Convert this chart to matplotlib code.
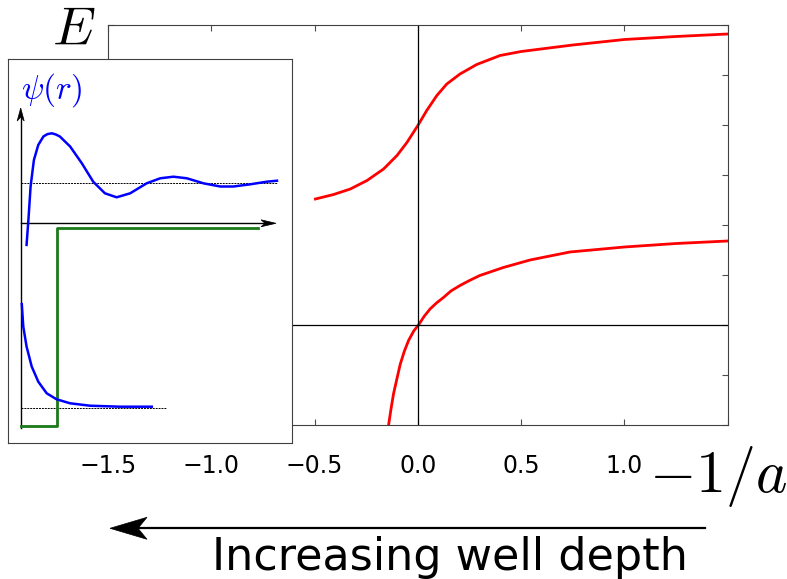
import matplotlib
matplotlib.use("Agg")
import matplotlib.pyplot as plt
from matplotlib.patches import Polygon

plt.rcParams["mathtext.fontset"] = "cm"
plt.rcParams["lines.solid_joinstyle"] = "round"

# main panel: energy levels vs -1/a
upper_x = [-0.496, -0.408, -0.327, -0.246, -0.166, -0.101, -0.053, 0.0, 0.043, 0.092, 0.14,
           0.204, 0.285, 0.398, 0.5, 0.75, 1.0, 1.25, 1.5]
upper_E = [2.52, 2.61, 2.72, 2.89, 3.12, 3.39, 3.65, 3.99, 4.29, 4.59, 4.82,
           5.02, 5.21, 5.39, 5.47, 5.60, 5.71, 5.77, 5.82]
lower_x = [-0.142, -0.13, -0.118, -0.1, -0.085, -0.065, -0.045, -0.02, 0.003, 0.03, 0.059,
           0.09, 0.124, 0.16, 0.204, 0.25, 0.30, 0.414, 0.543, 0.736, 1.0, 1.25, 1.5]
lower_E = [-2.01, -1.68, -1.38, -1.05, -0.78, -0.52, -0.31, -0.12, 0.0, 0.17, 0.32,
           0.44, 0.55, 0.68, 0.79, 0.89, 0.99, 1.15, 1.30, 1.46, 1.56, 1.63, 1.68]
xticks = [-1.5, -1.0, -0.5, 0.0, 0.5, 1.0, 1.5]
xticklabels = ["\u22121.5", "\u22121.0", "\u22120.5", "0.0", "0.5", "1.0", ""]
yticks = [-2, -1, 0, 1, 2, 3, 4, 5, 6]

# inset: wavefunctions and square well
scat_r = [0.16, 0.21, 0.27, 0.36, 0.48, 0.62, 0.73, 0.85, 0.96, 1.07, 1.35, 1.67, 1.98, 2.30,
          2.62, 2.99, 3.44, 3.81, 4.17, 4.54, 4.99, 5.45, 5.81, 6.27, 6.72, 7.0]
scat_psi = [-0.54, 0.08, 0.92, 1.58, 1.96, 2.17, 2.23, 2.25, 2.22, 2.17, 1.92, 1.50, 1.04, 0.75,
            0.65, 0.75, 1.0, 1.125, 1.165, 1.125, 1.0, 0.92, 0.92, 0.975, 1.04, 1.065]
bound_r = [0.03, 0.07, 0.16, 0.30, 0.48, 0.71, 0.98, 1.35, 1.89, 2.71, 3.58]
bound_psi = [-2.02, -2.58, -3.08, -3.58, -3.96, -4.25, -4.40, -4.5, -4.56, -4.585, -4.585]
well_r = [0.0, 1.0, 1.0, 6.48]
well_V = [-5.07, -5.07, -0.11, -0.11]
scat_level, scat_end = 1.0, 7.0
bound_level, bound_end = -4.62, 3.96

W, H = 787, 579
fig = plt.figure(figsize=(W / 100, H / 100), dpi=100)


def fpt(x, y):
    # figure pixel (from top-left) -> figure fraction
    return (x / W, 1 - y / H)


def head(tip, direction, length, half_w, notch):
    # concave arrow head drawn in figure pixels
    tx, ty = tip
    dx, dy = direction
    px, py = -dy, dx
    pts = [(tx, ty),
           (tx - dx * length + px * half_w, ty - dy * length + py * half_w),
           (tx - dx * (length - notch), ty - dy * (length - notch)),
           (tx - dx * length - px * half_w, ty - dy * length - py * half_w)]
    fig.add_artist(Polygon([fpt(*p) for p in pts], closed=True, transform=fig.transFigure,
                           facecolor="black", edgecolor="black", lw=0.5, zorder=10))


ax = fig.add_axes([108 / W, 1 - 425 / H, 619.7 / W, 400 / H])
ax.plot(upper_x, upper_E, color="red", lw=2)
ax.plot(lower_x, lower_E, color="red", lw=2)
ax.axvline(0, color="black", lw=0.9)
ax.axhline(0, color="black", lw=0.9)
ax.set_xlim(-1.5, 1.5)
ax.set_ylim(-2, 6)
ax.set_xticks(xticks)
ax.set_xticklabels(xticklabels)
ax.set_yticks(yticks)
ax.set_yticklabels([])
ax.tick_params(direction="in", top=True, right=True, length=4, width=0.8,
               labelsize=17, pad=21, color="0.3")
for s in ax.spines.values():
    s.set_color("0.25")

fig.text(*fpt(74, 45), "$E$", fontsize=39, ha="center", va="baseline")
fig.text(*fpt(718, 491.7), "$-1/a$", fontsize=43, ha="center", va="baseline")

# inset
ai = fig.add_axes([8 / W, 1 - 443.3 / H, 284 / W, 384 / H])
ai.set_xlim(-0.347, 7.41)
ai.set_ylim(-5.5, 4.1)
ai.set_xticks([])
ai.set_yticks([])
for s in ai.spines.values():
    s.set_color("0.25")
ai.plot([0, scat_end], [scat_level, scat_level], color="black", lw=0.7, ls=(0, (2, 1)))
ai.plot([0, bound_end], [bound_level, bound_level], color="black", lw=0.7, ls=(0, (2, 1)))
ai.plot([0, 0], [-5.12, 2.7], color="black", lw=1)
ai.plot([0, 6.8], [0, 0], color="black", lw=1)
ai.plot(well_r, well_V, color="#1a7a1a", lw=2)
ai.plot(scat_r, scat_psi, color="blue", lw=1.8)
ai.plot(bound_r, bound_psi, color="blue", lw=1.8)
ai.text(0.86, 3.33, r"$\psi(r)$", color="blue", fontsize=24, ha="center", va="center")
head((20.7, 108), (0, -1), 13, 3.5, 4)
head((276, 223.3), (1, 0), 15, 3.5, 4)

# bottom arrow and caption
fig.add_artist(plt.Line2D([138 / W, 705 / W], [1 - 528.3 / H] * 2, color="black", lw=1.6,
                          transform=fig.transFigure))
head((110, 528.3), (-1, 0), 37, 11, 9)
fig.text(*fpt(450, 570), "Increasing well depth", fontsize=32, ha="center", va="baseline")

fig.savefig("out.png", dpi=100)
